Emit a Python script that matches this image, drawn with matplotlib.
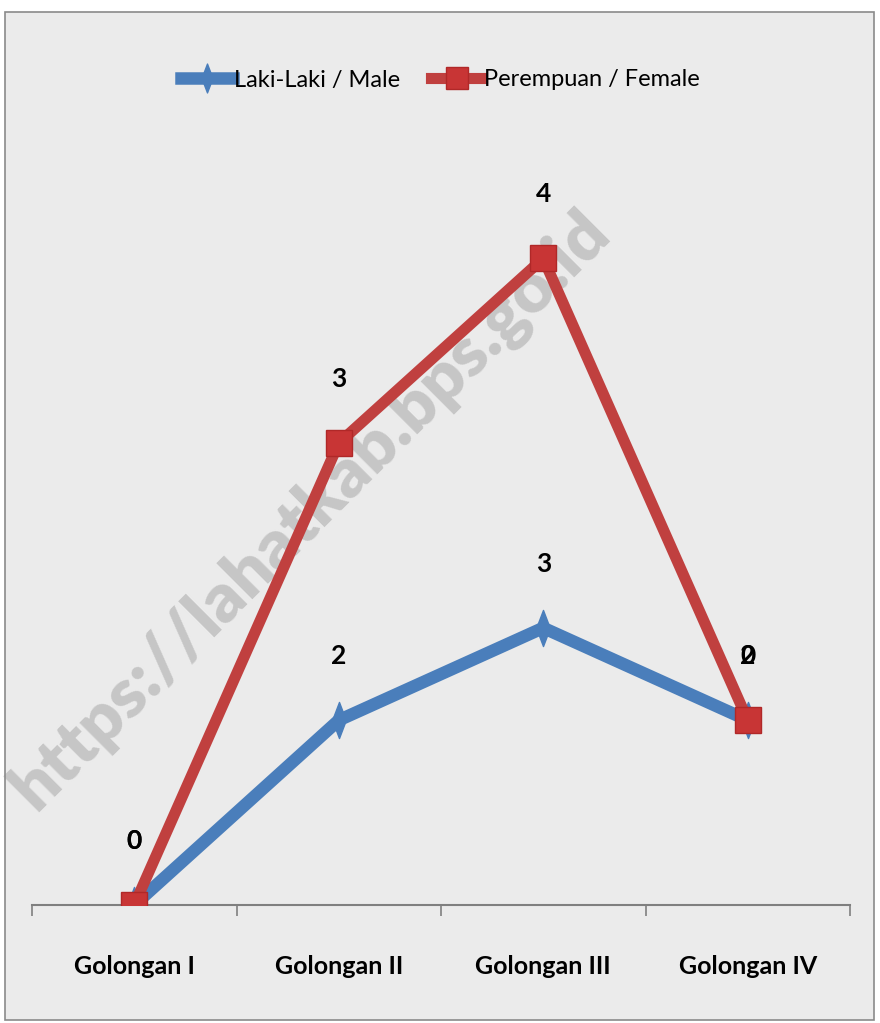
import matplotlib.pyplot as plt
import numpy as np
from matplotlib.patches import Rectangle
from matplotlib.path import Path

categories = ["Golongan I", "Golongan II", "Golongan III", "Golongan IV"]
male = [0, 2, 3, 2]
female = [0, 3, 4, 0]
series_names = ["Laki-Laki / Male", "Perempuan / Female"]

FONT = ["Lato", "DejaVu Sans"]
plt.rcParams["font.family"] = FONT

blue = "#4a7ebb"
red = "#c0403f"

fig = plt.figure(figsize=(8.8, 10.23), dpi=100)
fig.patch.set_facecolor("white")

# chart area background + frame
fig.patches.append(Rectangle((5 / 880, 3 / 1023), 869 / 880, 1008 / 1023,
                             transform=fig.transFigure, facecolor="#ebebeb",
                             edgecolor="#8a8a8a", linewidth=1.2, zorder=-10))

# watermark
fig.text(310 / 880, 1 - 510 / 1023, "https://lahatkab.bps.go.id", rotation=45,
         ha="center", va="center", fontsize=50, fontweight="heavy",
         color="#8f8f8f", alpha=0.4, zorder=-5)

ax = fig.add_axes([32 / 880, 118 / 1023, 818 / 880, 739 / 1023])
ax.set_facecolor("none")

x = np.arange(len(categories))
stacked = np.array(male) + np.array(female)

thin_diamond = Path([(0, 1), (0.38, 0), (0, -1), (-0.38, 0), (0, 1)],
                    [Path.MOVETO, Path.LINETO, Path.LINETO, Path.LINETO, Path.CLOSEPOLY])

ax.plot(x, male, color=blue, lw=9, marker=thin_diamond, ms=26,
        mfc=blue, mec=blue, label=series_names[0], zorder=3,
        solid_joinstyle="miter")
ax.plot(x, stacked, color=red, lw=8, marker="s", ms=19,
        mfc="#c83535", mec="#b02828", label=series_names[1], zorder=4,
        solid_joinstyle="miter")

for xi, v in zip(x, male):
    ax.annotate(str(v), (xi, v), xytext=(0, 46), textcoords="offset points",
                ha="center", va="center", fontsize=19, fontweight="bold",
                color="black", zorder=5)
for xi, v, s in zip(x, female, stacked):
    ax.annotate(str(v), (xi, s), xytext=(0, 46), textcoords="offset points",
                ha="center", va="center", fontsize=19, fontweight="bold",
                color="black", zorder=5)

ax.set_xlim(-0.5, len(categories) - 0.5)
ax.set_ylim(0, 8)

for s in ["left", "right", "top"]:
    ax.spines[s].set_visible(False)
ax.spines["bottom"].set_color("#7f7f7f")
ax.spines["bottom"].set_linewidth(1.5)
ax.set_yticks([])

ax.set_xticks(np.arange(-0.5, len(categories)), labels=[])
ax.tick_params(axis="x", which="major", length=8, width=1.2, color="#7f7f7f",
               direction="out")
ax.set_xticks(x, labels=categories, minor=True)
ax.tick_params(axis="x", which="minor", length=0, pad=36, labelsize=18)
for lbl in ax.get_xticklabels(minor=True):
    lbl.set_fontweight("bold")

fig.legend(loc="center", bbox_to_anchor=(0.5, 1 - 80 / 1023), ncol=2,
           frameon=False, fontsize=17, handlelength=2.2, handletextpad=0.05,
           columnspacing=1.3, markerscale=0.8)

fig.savefig("out.png", dpi=100, facecolor=fig.get_facecolor())
